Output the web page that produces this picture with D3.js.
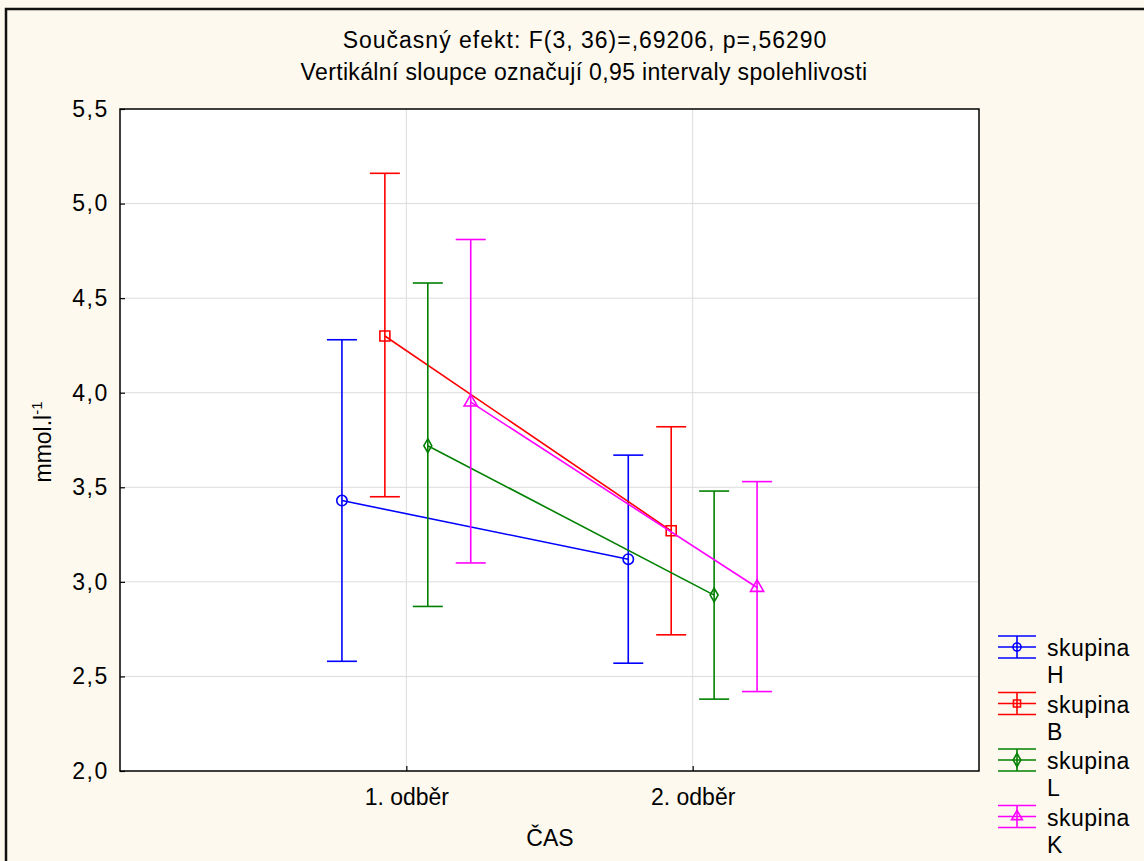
<!DOCTYPE html>
<html>
<head>
<meta charset="utf-8">
<script src="https://cdn.jsdelivr.net/npm/d3@7"></script>
<style>
  body { margin: 0; background: #fdf9ee; }
  svg { display: block; font-family: "Liberation Sans", Arial, sans-serif; }
</style>
</head>
<body>
<svg id="chart" width="1144" height="861"></svg>
<script>
// data
const categories = ['1. odběr', '2. odběr'];
const groups = ['H', 'B', 'L', 'K'];
const groupColors = ['#0000ff', '#ff0000', '#008000', '#ff00ff'];
const groupMarkers = ['circle', 'square', 'diamond', 'triangle'];

const meanH = [3.43, 3.12];
const meanB = [4.30, 3.27];
const meanL = [3.72, 2.93];
const meanK = [3.95, 2.97];

const upperH = [4.28, 3.67];
const upperB = [5.16, 3.82];
const upperL = [4.58, 3.48];
const upperK = [4.81, 3.53];

const lowerH = [2.58, 2.57];
const lowerB = [3.45, 2.72];
const lowerL = [2.87, 2.38];
const lowerK = [3.10, 2.42];

const yTicks = [2.0, 2.5, 3.0, 3.5, 4.0, 4.5, 5.0, 5.5];

const series = groups.map((g, i) => ({
    name: g,
    color: groupColors[i],
    marker: groupMarkers[i],
    mean: [meanH, meanB, meanL, meanK][i],
    upper: [upperH, upperB, upperL, upperK][i],
    lower: [lowerH, lowerB, lowerL, lowerK][i]
}));

const FONT = '23px';
const svg = d3.select('#chart');
const plot = { left: 120, top: 109, right: 979, bottom: 771 };

// outer frame
svg.append('rect')
    .attr('x', 6).attr('y', 9)
    .attr('width', 1160).attr('height', 880)
    .attr('fill', '#fdf9ee')
    .attr('stroke', '#111')
    .attr('stroke-width', 2.5);

const x = d3.scalePoint()
    .domain(categories)
    .range([plot.left, plot.right])
    .padding(1);

const offset = d3.scalePoint()
    .domain(groups)
    .range([-64.4, 64.4]);

const y = d3.scaleLinear()
    .domain([2.0, 5.5])
    .range([plot.bottom, plot.top]);

svg.append('rect')
    .attr('x', plot.left).attr('y', plot.top)
    .attr('width', plot.right - plot.left)
    .attr('height', plot.bottom - plot.top)
    .attr('fill', '#fff');

// grid
svg.selectAll('line.hgrid')
    .data(yTicks.slice(1, -1))
    .join('line')
    .attr('class', 'hgrid')
    .attr('x1', plot.left).attr('x2', plot.right)
    .attr('y1', d => y(d)).attr('y2', d => y(d))
    .attr('stroke', '#dcdcdc')
    .attr('stroke-width', 1);

svg.selectAll('line.vgrid')
    .data(categories)
    .join('line')
    .attr('class', 'vgrid')
    .attr('x1', d => x(d)).attr('x2', d => x(d))
    .attr('y1', plot.top).attr('y2', plot.bottom)
    .attr('stroke', '#dcdcdc')
    .attr('stroke-width', 1);

// axes
const yAxis = svg.append('g')
    .attr('transform', `translate(${plot.left},0)`)
    .call(d3.axisLeft(y).tickValues(yTicks).tickSize(-5).tickPadding(11)
        .tickFormat(d => d3.format('.1f')(d).replace('.', ',')));
yAxis.select('.domain').remove();
yAxis.selectAll('text')
    .style('font-size', FONT)
    .style('letter-spacing', '1.6px')
    .attr('fill', '#000');
yAxis.selectAll('line').attr('stroke', '#000').attr('stroke-width', 1.2);

const xAxis = svg.append('g')
    .attr('transform', `translate(0,${plot.bottom})`)
    .call(d3.axisBottom(x).tickSize(-5).tickPadding(18));
xAxis.select('.domain').remove();
xAxis.selectAll('text').style('font-size', FONT).attr('fill', '#000');
xAxis.selectAll('line').attr('stroke', '#000').attr('stroke-width', 1.2);

// connecting lines
const line = d3.line()
    .x((d, i) => x(categories[i]))
    .y(d => y(d));

const symbolFor = {
    circle: d3.symbol().type(d3.symbolCircle).size(85),
    square: d3.symbol().type(d3.symbolSquare).size(100),
    diamond: d3.symbol().type(d3.symbolDiamond).size(55),
    triangle: d3.symbol().type(d3.symbolTriangle).size(75)
};

series.forEach(s => {
    const dx = offset(s.name);
    const g = svg.append('g').attr('transform', `translate(${dx},0)`);

    g.append('path')
        .datum(s.mean)
        .attr('d', line)
        .attr('fill', 'none')
        .attr('stroke', s.color)
        .attr('stroke-width', 1.6);

    categories.forEach((c, i) => {
        const cx = x(c);
        g.append('line')
            .attr('x1', cx).attr('x2', cx)
            .attr('y1', y(s.lower[i])).attr('y2', y(s.upper[i]))
            .attr('stroke', s.color).attr('stroke-width', 1.6);
        [s.lower[i], s.upper[i]].forEach(v => {
            g.append('line')
                .attr('x1', cx - 15).attr('x2', cx + 15)
                .attr('y1', y(v)).attr('y2', y(v))
                .attr('stroke', s.color).attr('stroke-width', 1.6);
        });
        g.append('path')
            .attr('d', symbolFor[s.marker]())
            .attr('transform', `translate(${cx},${y(s.mean[i])})`)
            .attr('fill', 'none')
            .attr('stroke', s.color)
            .attr('stroke-width', 1.6);
    });
});

// plot frame
svg.append('rect')
    .attr('x', plot.left).attr('y', plot.top)
    .attr('width', plot.right - plot.left)
    .attr('height', plot.bottom - plot.top)
    .attr('fill', 'none')
    .attr('stroke', '#000')
    .attr('stroke-width', 1.5);

// titles
svg.append('text')
    .attr('x', 585).attr('y', 48)
    .attr('text-anchor', 'middle')
    .style('font-size', FONT)
    .style('letter-spacing', '1px')
    .text('Současný efekt: F(3, 36)=,69206, p=,56290');
svg.append('text')
    .attr('x', 584).attr('y', 80)
    .attr('text-anchor', 'middle')
    .style('font-size', FONT)
    .style('letter-spacing', '0.35px')
    .text('Vertikální sloupce označují 0,95 intervaly spolehlivosti');

svg.append('text')
    .attr('x', 550).attr('y', 846)
    .attr('text-anchor', 'middle')
    .style('font-size', FONT)
    .text('ČAS');

const yLabel = svg.append('text')
    .attr('transform', 'translate(51,442) rotate(-90)')
    .attr('text-anchor', 'middle')
    .style('font-size', FONT);
yLabel.append('tspan').text('mmol.l');
yLabel.append('tspan').attr('dy', -9).style('font-size', '15px').text('-1');

// legend
const legend = svg.selectAll('g.legend-item')
    .data(series)
    .join('g')
    .attr('class', 'legend-item')
    .attr('transform', (d, i) => `translate(1017, ${647 + i * 56.5})`);

legend.each(function (s) {
    const g = d3.select(this);
    [-11, 0, 11].forEach(dy => {
        g.append('line')
            .attr('x1', -19).attr('x2', 19)
            .attr('y1', dy).attr('y2', dy)
            .attr('stroke', s.color).attr('stroke-width', 1.6);
    });
    g.append('line')
        .attr('x1', 0).attr('x2', 0)
        .attr('y1', -11).attr('y2', 11)
        .attr('stroke', s.color).attr('stroke-width', 1.6);
    g.append('path')
        .attr('d', d3.symbol().type({
            circle: d3.symbolCircle, square: d3.symbolSquare,
            diamond: d3.symbolDiamond, triangle: d3.symbolTriangle
        }[s.marker]).size(50)())
        .attr('fill', 'none')
        .attr('stroke', s.color)
        .attr('stroke-width', 1.6);
    g.append('text')
        .attr('x', 30).attr('y', 9)
        .style('font-size', FONT)
        .style('letter-spacing', '0.5px')
        .text('skupina');
    g.append('text')
        .attr('x', 30).attr('y', 36)
        .style('font-size', FONT)
        .text(s.name);
});
</script>
</body>
</html>
